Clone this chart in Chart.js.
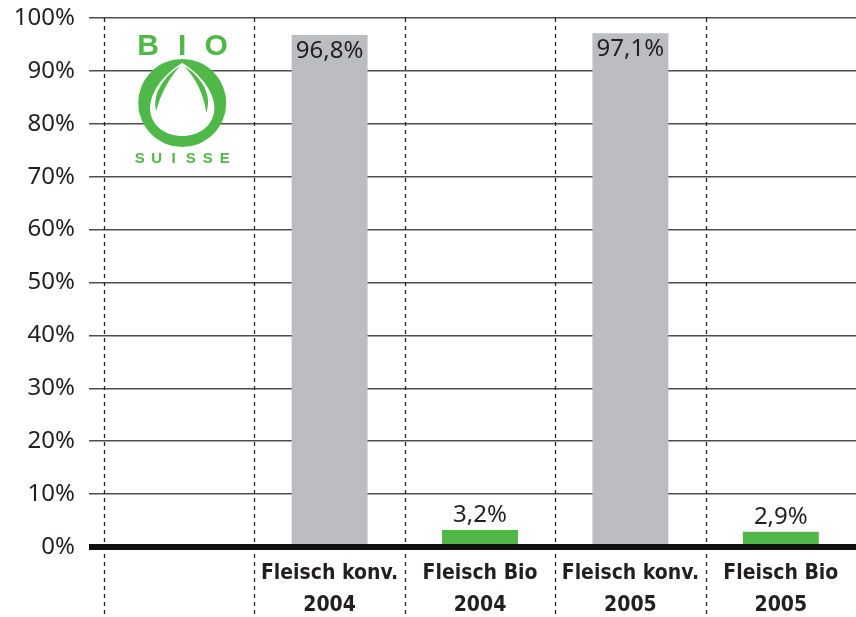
<!DOCTYPE html>
<html>
<head>
<meta charset="utf-8">
<script src="https://cdn.jsdelivr.net/npm/chart.js@4/dist/chart.umd.min.js"></script>
<style>
    html, body { margin: 0; padding: 0; background: #fff; }
    #wrap { width: 856px; height: 617px; }
</style>
</head>
<body>
<div id="wrap"><canvas id="chart"></canvas></div>
<script>
// Data
const categories = [
    '',
    ['Fleisch konv.', '2004'],
    ['Fleisch Bio', '2004'],
    ['Fleisch konv.', '2005'],
    ['Fleisch Bio', '2005']
];
const shares = [null, 96.8, 3.2, 97.1, 2.9];
const barColors = ['#bcbdc1', '#bcbdc1', '#50b848', '#bcbdc1', '#50b848'];
const yTicks = [0, 10, 20, 30, 40, 50, 60, 70, 80, 90, 100];

const TEXT = '#231f20';
const GREEN = '#50b848';
const tickFont = '"Noto Sans", sans-serif';

// Format like 96,8%
function pct(v) {
    return v.toFixed(1).replace('.', ',') + '%';
}

// Bio Suisse logo, drawn on the canvas
function drawLogo(ctx, cx, top) {
    ctx.save();
    ctx.fillStyle = GREEN;
    ctx.textAlign = 'center';
    ctx.textBaseline = 'alphabetic';
    ctx.font = 'bold 30px "Liberation Sans Narrow", "Liberation Sans", sans-serif';
    ['B', 'I', 'O'].forEach((c, i) => ctx.fillText(c, cx + (i - 1) * 34, top + 22));

    const cy = top + 70;
    ctx.beginPath();
    ctx.arc(cx, cy, 44, 0, Math.PI * 2);
    ctx.fill();

    // white drop
    ctx.fillStyle = '#fff';
    ctx.beginPath();
    ctx.moveTo(cx, cy - 40);
    ctx.bezierCurveTo(cx + 20, cy - 28, cx + 34, cy - 8, cx + 32, cy + 8);
    ctx.bezierCurveTo(cx + 30, cy + 24, cx + 16, cy + 33, cx, cy + 33);
    ctx.bezierCurveTo(cx - 16, cy + 33, cx - 30, cy + 24, cx - 32, cy + 8);
    ctx.bezierCurveTo(cx - 34, cy - 8, cx - 20, cy - 28, cx, cy - 40);
    ctx.fill();

    // inner leaves
    ctx.fillStyle = GREEN;
    ctx.beginPath();
    ctx.moveTo(cx - 2, cy - 37);
    ctx.bezierCurveTo(cx - 22, cy - 24, cx - 30, cy - 6, cx - 26, cy + 8);
    ctx.bezierCurveTo(cx - 22, cy - 8, cx - 14, cy - 24, cx - 2, cy - 37);
    ctx.fill();
    ctx.beginPath();
    ctx.moveTo(cx + 2, cy - 37);
    ctx.bezierCurveTo(cx + 22, cy - 24, cx + 30, cy - 6, cx + 24, cy + 10);
    ctx.bezierCurveTo(cx + 22, cy - 8, cx + 14, cy - 24, cx + 2, cy - 37);
    ctx.fill();

    ctx.font = 'bold 15px "Liberation Sans", sans-serif';
    'SUISSE'.split('').forEach((c, i) => ctx.fillText(c, cx + (i - 2.5) * 17, top + 130));
    ctx.restore();
}

const decorPlugin = {
    id: 'decor',
    beforeDatasetsDraw(chart) {
        const ctx = chart.ctx;
        const x = chart.scales.x;
        const area = chart.chartArea;
        const slot = x.width / categories.length;
        ctx.save();
        ctx.strokeStyle = '#222';
        ctx.lineWidth = 1.3;
        ctx.setLineDash([4, 4]);
        for (let i = 0; i < categories.length; i++) {
            const px = Math.round(x.getPixelForValue(i) - slot / 2) + 0.5;
            ctx.beginPath();
            ctx.moveTo(px, area.top);
            ctx.lineTo(px, chart.height);
            ctx.stroke();
        }
        ctx.restore();
        drawLogo(ctx, x.getPixelForValue(0) + 3, area.top + 15);
    },
    afterDatasetsDraw(chart) {
        const ctx = chart.ctx;
        const y = chart.scales.y;
        const area = chart.chartArea;
        const y0 = y.getPixelForValue(0);

        // value labels
        const meta = chart.getDatasetMeta(0);
        ctx.save();
        ctx.fillStyle = TEXT;
        ctx.font = '24px ' + tickFont;
        ctx.textAlign = 'center';
        meta.data.forEach((bar, i) => {
            const v = shares[i];
            if (v == null) return;
            if (v > 50) {
                ctx.textBaseline = 'top';
                ctx.fillText(pct(v), bar.x, bar.y + 4);
            } else {
                ctx.textBaseline = 'bottom';
                ctx.fillText(pct(v), bar.x, bar.y - 3);
            }
        });

        // thick zero line
        ctx.strokeStyle = '#111';
        ctx.lineWidth = 6;
        ctx.beginPath();
        ctx.moveTo(area.left - 15, y0);
        ctx.lineTo(area.right, y0);
        ctx.stroke();
        ctx.restore();
    }
};

new Chart(document.getElementById('chart'), {
    type: 'bar',
    data: {
        labels: categories,
        datasets: [{
            data: shares,
            backgroundColor: barColors,
            borderWidth: 0,
            barPercentage: 0.505,
            categoryPercentage: 1
        }]
    },
    options: {
        responsive: true,
        maintainAspectRatio: false,
        animation: false,
        layout: {
            padding: { top: 18, right: 0, left: 0, bottom: 0 }
        },
        plugins: {
            legend: { display: false },
            tooltip: { enabled: false }
        },
        scales: {
            x: {
                grid: { display: false },
                border: { display: false },
                ticks: {
                    color: TEXT,
                    padding: 3,
                    maxRotation: 0,
                    font: { family: '"Liberation Sans Narrow", "DejaVu Sans Condensed", sans-serif', size: 21, weight: 'bold', lineHeight: 1.5 }
                },
                afterFit(scale) {
                    scale.height = 70;
                    scale.paddingLeft = 0;
                    scale.paddingRight = 0;
                }
            },
            y: {
                min: 0,
                max: 100,
                afterBuildTicks(scale) {
                    scale.ticks = yTicks.map(v => ({ value: v }));
                },
                border: { display: false },
                grid: {
                    color: ctx => ctx.tick && ctx.tick.value === 0 ? 'rgba(0,0,0,0)' : '#4d4d4d',
                    lineWidth: 1.5,
                    tickLength: 15,
                    drawTicks: true
                },
                ticks: {
                    color: TEXT,
                    padding: 14,
                    font: { family: tickFont, size: 24 },
                    callback: v => v + '%'
                },
                afterFit(scale) {
                    scale.width = 104;
                    scale.paddingTop = 0;
                    scale.paddingBottom = 0;
                }
            }
        }
    },
    plugins: [decorPlugin]
});
</script>
</body>
</html>
